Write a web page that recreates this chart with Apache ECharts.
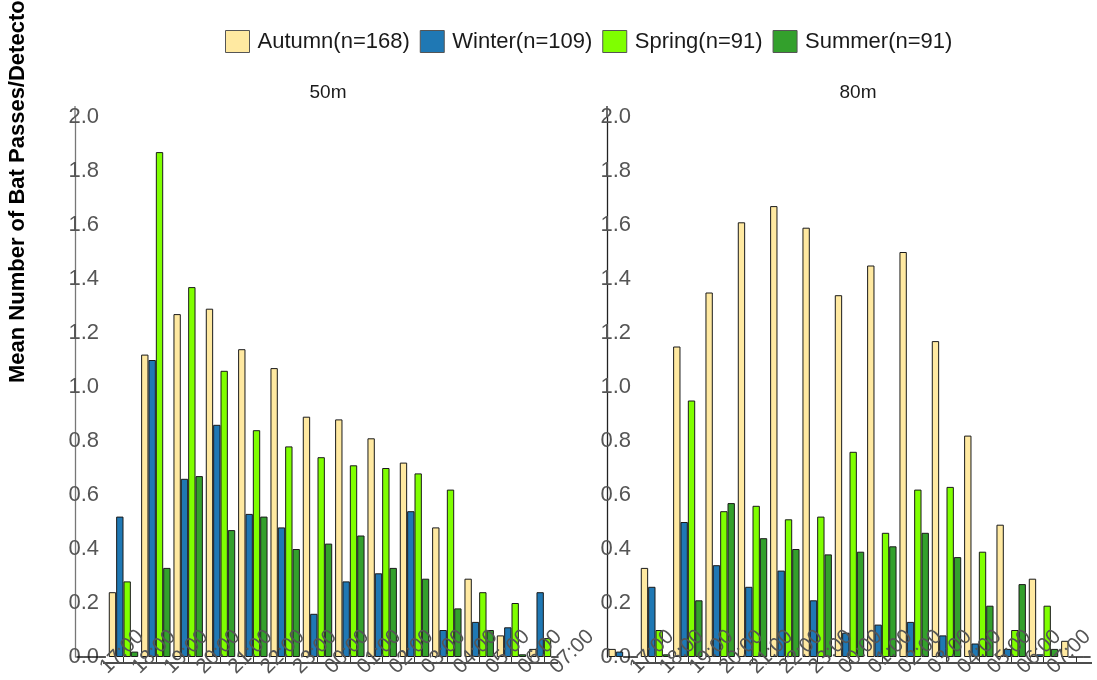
<!DOCTYPE html>
<html>
<head>
<meta charset="utf-8">
<script src="https://cdn.jsdelivr.net/npm/echarts@6/dist/echarts.min.js"></script>
<style>
html, body { margin: 0; padding: 0; background: #fff; }
#chart { width: 1097px; height: 680px; }
</style>
</head>
<body>
<div id="chart"></div>
<script>
// hour bins (first bin has no label in the original plot)
var hourBins = ['16:00','17:00','18:00','19:00','20:00','21:00','22:00','23:00','00:00','01:00','02:00','03:00','04:00','05:00','06:00'];
var hourLabels = ['17:00','18:00','19:00','20:00','21:00','22:00','23:00','00:00','01:00','02:00','03:00','04:00','05:00','06:00','07:00'];
var seasons = ['Autumn(n=168)','Winter(n=109)','Spring(n=91)','Summer(n=91)'];
var seasonColors = ['#FFE9A1','#1F78B4','#7FFF00','#33A02C'];

// 50m
var autumn50 = [0, 0.24, 1.12, 1.27, 1.29, 1.14, 1.07, 0.89, 0.88, 0.81, 0.72, 0.48, 0.29, 0.08, 0.03];
var winter50 = [0, 0.52, 1.10, 0.66, 0.86, 0.53, 0.48, 0.16, 0.28, 0.31, 0.54, 0.10, 0.13, 0.11, 0.24];
var spring50 = [0, 0.28, 1.87, 1.37, 1.06, 0.84, 0.78, 0.74, 0.71, 0.70, 0.68, 0.62, 0.24, 0.20, 0.07];
var summer50 = [0, 0.02, 0.33, 0.67, 0.47, 0.52, 0.40, 0.42, 0.45, 0.33, 0.29, 0.18, 0.10, 0.01, 0];

// 80m
var autumn80 = [0.03, 0.33, 1.15, 1.35, 1.61, 1.67, 1.59, 1.34, 1.45, 1.50, 1.17, 0.82, 0.49, 0.29, 0.06];
var winter80 = [0.02, 0.26, 0.50, 0.34, 0.26, 0.32, 0.21, 0.09, 0.12, 0.13, 0.08, 0.05, 0.03, 0.01, 0];
var spring80 = [0, 0.10, 0.95, 0.54, 0.56, 0.51, 0.52, 0.76, 0.46, 0.62, 0.63, 0.39, 0.10, 0.19, 0];
var summer80 = [0, 0.01, 0.21, 0.57, 0.44, 0.40, 0.38, 0.39, 0.41, 0.46, 0.37, 0.19, 0.27, 0.03, 0];

var panelTitles = ['50m', '80m'];
var yMin = 0, yMax = 2.0, yStep = 0.2;

var font = 'Liberation Sans, Arial, sans-serif';
var chart = echarts.init(document.getElementById('chart'));

function barSeries(name, data, idx, color) {
  return {
    name: name, type: 'bar', xAxisIndex: idx, yAxisIndex: idx,
    data: data, barGap: '0%', barCategoryGap: '9%',
    itemStyle: { color: color, borderColor: '#1a1a1a', borderWidth: 1 }
  };
}

function yAxisFor(idx, lineColor) {
  return {
    type: 'value', gridIndex: idx, min: yMin, max: yMax, interval: yStep,
    axisLine: { show: true, lineStyle: { color: lineColor, width: 1.3 } },
    axisTick: { show: false },
    splitLine: { show: false },
    axisLabel: {
      fontSize: 22, color: '#555', fontFamily: font, margin: -24, align: 'right',
      formatter: function (v) { return v.toFixed(1); }
    }
  };
}

function tickAxis(idx) {
  return {
    type: 'category', gridIndex: idx, data: hourBins, offset: 6,
    axisLine: { show: false },
    axisTick: {
      show: true, alignWithLabel: true, length: 5,
      interval: function (i) { return i > 0; },
      lineStyle: { color: '#333' }
    },
    axisLabel: { show: false }
  };
}

function labelAxis(idx) {
  return {
    type: 'category', gridIndex: idx, data: hourLabels, boundaryGap: false, z: 10,
    axisLine: { show: false }, axisTick: { show: false },
    axisLabel: {
      interval: 0, rotate: 45, align: 'center', verticalAlign: 'middle', margin: 0,
      fontSize: 21, color: '#555', fontFamily: font
    }
  };
}

var option = {
  backgroundColor: '#fff',
  animation: false,
  textStyle: { fontFamily: font },
  legend: {
    data: seasons, top: 25, left: 220,
    itemWidth: 24, itemHeight: 22, itemGap: 10, icon: 'rect',
    itemStyle: { borderColor: '#555', borderWidth: 1 },
    textStyle: { fontSize: 22, color: '#1a1a1a', fontFamily: font, padding: [0, 0, 0, 3] }
  },
  grid: [
    { left: 75, top: 117, width: 485, height: 540 },
    { left: 607, top: 117, width: 485, height: 540 },
    { left: 122, top: 117, width: 450, height: 540 },
    { left: 652, top: 117, width: 450, height: 540 }
  ],
  xAxis: [tickAxis(0), tickAxis(1), labelAxis(2), labelAxis(3)],
  yAxis: [
    yAxisFor(0, '#777'),
    yAxisFor(1, '#222'),
    { type: 'value', gridIndex: 2, min: 0, max: 1, show: false },
    { type: 'value', gridIndex: 3, min: 0, max: 1, show: false }
  ],
  series: [
    barSeries(seasons[0], autumn50, 0, seasonColors[0]),
    barSeries(seasons[1], winter50, 0, seasonColors[1]),
    barSeries(seasons[2], spring50, 0, seasonColors[2]),
    barSeries(seasons[3], summer50, 0, seasonColors[3]),
    barSeries(seasons[0], autumn80, 1, seasonColors[0]),
    barSeries(seasons[1], winter80, 1, seasonColors[1]),
    barSeries(seasons[2], spring80, 1, seasonColors[2]),
    barSeries(seasons[3], summer80, 1, seasonColors[3])
  ],
  graphic: [
    { type: 'line', shape: { x1: 103, y1: 663, x2: 558, y2: 663 }, style: { stroke: '#111', lineWidth: 1.3 } },
    { type: 'line', shape: { x1: 633, y1: 663, x2: 1092, y2: 663 }, style: { stroke: '#111', lineWidth: 1.3 } },
    { type: 'line', shape: { x1: 75, y1: 106, x2: 75, y2: 117 }, style: { stroke: '#777', lineWidth: 1.3 } },
    { type: 'line', shape: { x1: 607, y1: 106, x2: 607, y2: 117 }, style: { stroke: '#222', lineWidth: 1.3 } },
    { type: 'text', x: 328, y: 93, style: { text: panelTitles[0], font: '19px ' + font, fill: '#1a1a1a', textAlign: 'center', textVerticalAlign: 'middle' } },
    { type: 'text', x: 858, y: 93, style: { text: panelTitles[1], font: '19px ' + font, fill: '#1a1a1a', textAlign: 'center', textVerticalAlign: 'middle' } },
    { type: 'text', x: 18, y: 383, rotation: Math.PI / 2,
      style: { text: 'Mean Number of Bat Passes/Detector', font: 'bold 22px ' + font, fill: '#000', textAlign: 'left', textVerticalAlign: 'middle' } }
  ]
};
chart.setOption(option);
</script>
</body>
</html>
